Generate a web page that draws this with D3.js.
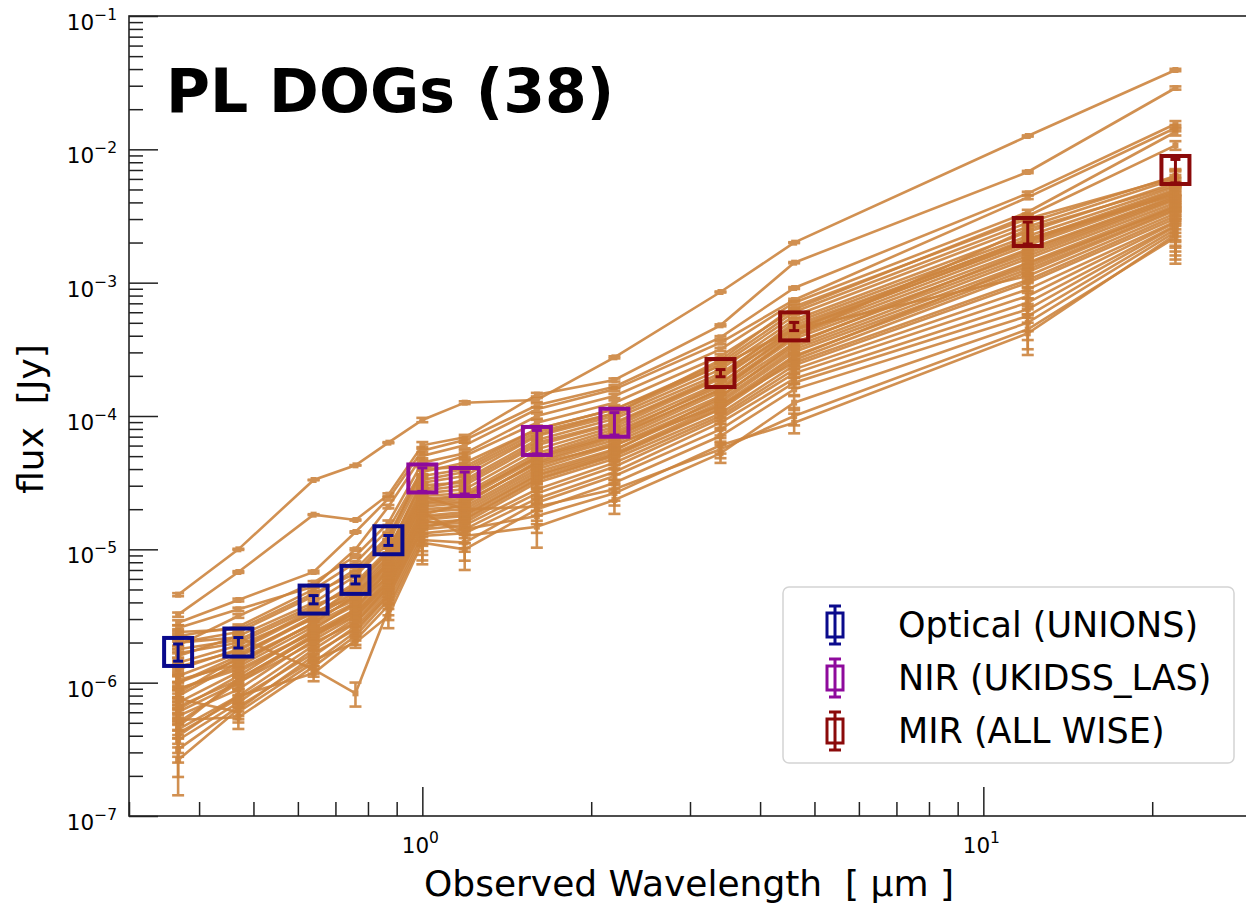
<!DOCTYPE html>
<html>
<head>
<meta charset="utf-8">
<script src="https://cdn.jsdelivr.net/npm/d3@7"></script>
<style>
  body { margin: 0; background: #fff; }
  text { font-family: "DejaVu Sans", sans-serif; fill: #000; white-space: pre; }
</style>
</head>
<body>
<div id="sed"></div>
<script>
const WIDTH = 1246;
const HEIGHT = 903;
const PLOT = { LEFT: 129, RIGHT: 1251, TOP: 16, BOTTOM: 816 };

// DATA
// band wavelengths (micron): u g r i z | Y J H K | W1 W2 W3 W4
const wavelengths = [0.367, 0.47, 0.64, 0.76, 0.87, 1.0, 1.19, 1.6, 2.2, 3.4, 4.6, 12, 22];
const bandGroup = [0, 0, 0, 0, 0, 1, 1, 1, 1, 2, 2, 2, 2];
const groupNames = ["Optical (UNIONS)", "NIR (UKIDSS_LAS)", "MIR (ALL WISE)"];
const groupColors = ["#0a0a8c", "#8e0a9c", "#8b0a0a"];

// median SED with its errors (Jy)
const medianFlux = [1.7e-6, 2.0e-6, 4.2e-6, 5.9e-6, 1.17e-5, 3.4e-5, 3.2e-5, 6.5e-5, 8.9e-5, 2.1e-4, 4.7e-4, 2.4e-3, 7.0e-3];
const medianErr = [2.5e-7, 1.8e-7, 3.0e-7, 4.0e-7, 1.0e-6, 6.8e-6, 6.0e-6, 1.3e-5, 1.7e-5, 1.3e-5, 3.3e-5, 4.5e-4, 1.4e-3];

// typical 1-sigma flux error per band (Jy)
const bandNoise = [1.2e-7, 1.0e-7, 1.5e-7, 1.7e-7, 6e-7, 3.5e-6, 3e-6, 4.5e-6, 5e-6, 8e-6, 1.5e-5, 1.3e-4, 8e-4];

// log10 flux [Jy] of the 38 individual sources
const logFlux = [
  [-5.34, -5.00, -4.48, -4.37, -4.20, -4.03, -3.90, -3.88, -3.56, -3.07, -2.70, -1.90, -1.405],
  [-5.49, -5.17, -4.74, -4.78, -4.59, -4.22, -4.16, -3.84, -3.73, -3.32, -2.85, -2.17, -1.54],
  [-5.55, -5.38, -5.17, -4.87, -4.62, -4.26, -4.18, -3.92, -3.78, -3.41, -3.04, -2.33, -1.81],
  [-5.59, -5.45, -5.28, -5.00, -4.68, -4.30, -4.22, -3.95, -3.80, -3.45, -3.13, -2.36, -1.84],
  [-5.72, -5.50, -5.25, -5.05, -4.80, -4.35, -4.28, -4.00, -3.85, -3.50, -3.15, -2.47, -1.87],
  [-5.65, -5.58, -5.30, -5.10, -4.85, -4.40, -4.30, -4.05, -3.90, -3.55, -3.20, -2.50, -1.97],
  [-5.70, -5.62, -5.35, -5.15, -4.90, -4.42, -4.35, -4.10, -3.95, -3.60, -3.22, -2.55, -2.20],
  [-5.80, -5.65, -5.40, -5.20, -4.95, -4.45, -4.40, -4.12, -3.98, -3.62, -3.25, -2.58, -2.22],
  [-5.90, -5.75, -5.45, -5.25, -5.00, -4.50, -4.45, -4.15, -4.00, -3.65, -3.28, -2.62, -2.25],
  [-6.00, -5.80, -5.50, -5.28, -5.02, -4.52, -4.50, -4.20, -4.05, -3.70, -3.30, -2.65, -2.28],
  [-5.75, -5.68, -5.42, -5.30, -5.05, -4.55, -4.48, -4.18, -4.02, -3.68, -3.32, -2.68, -2.30],
  [-6.10, -5.85, -5.55, -5.35, -5.08, -4.58, -4.55, -4.25, -4.08, -3.72, -3.35, -2.70, -2.32],
  [-6.20, -5.95, -5.60, -5.40, -5.10, -4.60, -4.58, -4.28, -4.10, -3.75, -3.38, -2.72, -2.33],
  [-5.85, -5.72, -5.48, -5.32, -5.12, -4.62, -4.60, -4.30, -4.12, -3.78, -3.40, -2.75, -2.35],
  [-6.30, -6.00, -5.65, -5.45, -5.15, -4.65, -4.62, -4.32, -4.15, -3.80, -3.42, -2.78, -2.37],
  [-5.95, -5.78, -5.52, -5.38, -5.18, -4.68, -4.65, -4.35, -4.18, -3.82, -3.45, -2.80, -2.38],
  [-6.05, -5.88, -5.58, -5.42, -5.20, -4.70, -4.68, -4.38, -4.20, -3.85, -3.48, -2.82, -2.40],
  [-6.15, -5.92, -5.62, -5.48, -5.22, -4.72, -4.70, -4.40, -4.22, -3.88, -3.50, -2.85, -2.42],
  [-6.25, -6.05, -5.68, -5.50, -5.25, -4.75, -4.72, -4.42, -4.25, -3.90, -3.52, -2.88, -2.43],
  [-6.35, -6.10, -5.72, -5.52, -5.28, -4.78, -4.75, -4.45, -4.28, -3.92, -3.55, -2.90, -2.45],
  [-6.43, -6.15, -5.75, -5.55, -5.30, -4.80, -4.78, -4.48, -4.30, -3.95, -3.58, -2.92, -2.46],
  [-5.62, -5.60, -5.33, -5.18, -4.92, -4.40, -4.38, -4.10, -3.95, -3.62, -3.35, -2.95, -2.48],
  [-6.00, -5.83, -5.56, -5.40, -5.15, -4.66, -4.64, -4.36, -4.22, -3.92, -3.60, -2.98, -2.50],
  [-6.58, -6.20, -5.80, -5.58, -5.32, -4.82, -4.80, -4.50, -4.32, -3.98, -3.62, -3.00, -2.52],
  [-6.12, -6.22, -5.85, -5.62, -5.35, -4.85, -4.82, -4.55, -4.35, -4.00, -3.65, -3.05, -2.54],
  [-6.28, -6.26, -5.88, -5.65, -5.38, -4.88, -4.85, -4.58, -4.38, -4.02, -3.68, -3.10, -2.55],
  [-6.40, -6.10, -5.93, -5.68, -5.42, -4.90, -4.88, -4.62, -4.42, -4.05, -3.72, -3.15, -2.57],
  [-5.70, -5.66, -5.90, -6.08, -5.45, -4.93, -4.95, -4.65, -4.45, -4.10, -3.75, -3.20, -2.58],
  [-6.50, -6.18, -5.83, -5.70, -5.50, -4.95, -5.00, -4.70, -4.50, -4.15, -3.80, -3.25, -2.60],
  [-6.05, -5.90, -5.62, -5.45, -5.20, -4.72, -4.90, -4.83, -4.63, -4.28, -3.90, -3.30, -2.62],
  [-6.22, -6.00, -5.70, -5.55, -5.28, -4.78, -4.85, -4.75, -4.58, -4.22, -4.05, -3.38, -2.64],
  [-5.98, -5.86, -5.55, -5.35, -5.10, -4.60, -4.70, -4.68, -4.55, -4.25, -4.00, -3.35, -2.66],
  [-6.33, -5.97, -5.66, -5.47, -5.24, -4.74, -4.66, -4.34, -4.16, -3.80, -3.40, -2.60, -2.27],
  [-5.78, -5.70, -5.44, -5.27, -5.02, -4.48, -4.42, -4.14, -3.98, -3.58, -3.18, -2.52, -2.21],
  [-6.08, -5.81, -5.51, -5.33, -5.06, -4.56, -4.52, -4.22, -4.06, -3.71, -3.34, -2.67, -2.34],
  [-6.18, -5.98, -5.64, -5.50, -5.26, -4.76, -4.74, -4.44, -4.26, -3.86, -3.46, -2.76, -2.36],
  [-5.88, -5.76, -5.47, -5.36, -5.14, -4.64, -4.60, -4.31, -4.14, -3.76, -3.36, -2.69, -2.31],
  [-6.38, -6.12, -5.78, -5.60, -5.34, -4.84, -4.77, -4.47, -4.29, -3.94, -3.56, -2.86, -2.44]
];

const xMajor = [1, 10];
const yExponents = [-7, -6, -5, -4, -3, -2, -1];

const svg = d3
  .select("#sed")
  .append("svg")
  .attr("width", WIDTH)
  .attr("height", HEIGHT);

const x = d3.scaleLog().domain([0.3, 30]).range([PLOT.LEFT, PLOT.RIGHT]);
const y = d3.scaleLog().domain([1e-7, 1e-1]).range([PLOT.BOTTOM, PLOT.TOP]);

// AXIS ticks (inward, matplotlib style)
const xMinor = [];
[0.1, 1, 10].forEach((d) => {
  for (let k = 2; k <= 9; k++) {
    const v = d * k;
    if (v > 0.3 && v < 30 && v !== 1 && v !== 10) xMinor.push(v);
  }
});
const yMinor = [];
yExponents.slice(0, -1).forEach((e) => {
  for (let k = 2; k <= 9; k++) yMinor.push(k * Math.pow(10, e));
});

function styleAxis(g) {
  g.select(".domain").remove();
  g.selectAll(".tick line").attr("stroke", "#222").attr("stroke-width", 1.5);
}

svg.append("g")
  .attr("transform", `translate(0, ${PLOT.BOTTOM})`)
  .call(d3.axisBottom(x).tickValues(xMajor).tickSize(-29).tickFormat(""))
  .call(styleAxis);
svg.append("g")
  .attr("transform", `translate(0, ${PLOT.BOTTOM})`)
  .call(d3.axisBottom(x).tickValues(xMinor).tickSize(-14).tickFormat(""))
  .call(styleAxis);
svg.append("g")
  .attr("transform", `translate(${PLOT.LEFT}, 0)`)
  .call(d3.axisLeft(y).tickValues(yExponents.map((e) => Math.pow(10, e))).tickSize(-29).tickFormat(""))
  .call(styleAxis);
svg.append("g")
  .attr("transform", `translate(${PLOT.LEFT}, 0)`)
  .call(d3.axisLeft(y).tickValues(yMinor).tickSize(-14).tickFormat(""))
  .call(styleAxis);

// tick labels 10^n
yExponents.forEach((e) => {
  const t = svg.append("text")
    .attr("x", 117)
    .attr("y", y(Math.pow(10, e)) + 14)
    .attr("text-anchor", "end")
    .attr("font-size", 21.5);
  t.append("tspan").text("10");
  t.append("tspan").attr("dy", -10).attr("font-size", 15.5).text("\u2212" + Math.abs(e));
});
xMajor.forEach((v) => {
  const t = svg.append("text")
    .attr("x", x(v) - 2)
    .attr("y", 853)
    .attr("text-anchor", "middle")
    .attr("font-size", 21.5);
  t.append("tspan").text("10");
  t.append("tspan").attr("dy", -10).attr("font-size", 15.5).text(Math.round(Math.log10(v)));
});

// LABELS
svg.append("text")
  .attr("x", 689)
  .attr("y", 896)
  .attr("text-anchor", "middle")
  .attr("font-size", 36)
  .text("Observed Wavelength  [ \u00b5m ]");
svg.append("text")
  .attr("transform", `translate(43, 419) rotate(-90)`)
  .attr("text-anchor", "middle")
  .attr("font-size", 36)
  .text("flux  [Jy]");

// TITLE
svg.append("text")
  .attr("x", 166)
  .attr("y", 112)
  .attr("font-size", 60)
  .attr("font-weight", "bold")
  .text("PL DOGs (38)");

// INDIVIDUAL SEDs
const plot = svg.append("g");
const orange = "#cd853f";
const line = d3.line().x((d) => x(d.w)).y((d) => y(d.f));

logFlux.forEach((row) => {
  const pts = row.map((v, i) => ({ w: wavelengths[i], f: Math.pow(10, v), e: bandNoise[i] }));
  const g = plot.append("g").attr("opacity", 0.9);
  g.append("path")
    .attr("d", line(pts))
    .attr("fill", "none")
    .attr("stroke", orange)
    .attr("stroke-width", 2.6);
  const eb = g.selectAll("g.eb").data(pts).join("g").attr("class", "eb");
  eb.append("line")
    .attr("x1", (d) => x(d.w)).attr("x2", (d) => x(d.w))
    .attr("y1", (d) => y(d.f + d.e))
    .attr("y2", (d) => y(Math.max(d.f - d.e, 1.1e-7)))
    .attr("stroke", orange).attr("stroke-width", 2.6);
  [1, -1].forEach((s) => {
    eb.append("line")
      .attr("x1", (d) => x(d.w) - 6).attr("x2", (d) => x(d.w) + 6)
      .attr("y1", (d) => y(s > 0 ? d.f + d.e : Math.max(d.f - d.e, 1.1e-7)))
      .attr("y2", (d) => y(s > 0 ? d.f + d.e : Math.max(d.f - d.e, 1.1e-7)))
      .attr("stroke", orange).attr("stroke-width", 2.6);
  });
  eb.append("rect")
    .attr("x", (d) => x(d.w) - 3).attr("y", (d) => y(d.f) - 3)
    .attr("width", 6).attr("height", 6)
    .attr("fill", orange);
});

// MEDIAN SED
const med = svg.append("g");
medianFlux.forEach((f, i) => {
  const cx = x(wavelengths[i]);
  const cy = y(f);
  const c = groupColors[bandGroup[i]];
  const top = y(f + medianErr[i]);
  const bot = y(f - medianErr[i]);
  med.append("rect")
    .attr("x", cx - 14).attr("y", cy - 14)
    .attr("width", 28).attr("height", 28)
    .attr("fill", "none")
    .attr("stroke", c).attr("stroke-width", 4);
  med.append("line")
    .attr("x1", cx).attr("x2", cx).attr("y1", top).attr("y2", bot)
    .attr("stroke", c).attr("stroke-width", 3);
  [top, bot].forEach((yy) => {
    med.append("line")
      .attr("x1", cx - 5).attr("x2", cx + 5).attr("y1", yy).attr("y2", yy)
      .attr("stroke", c).attr("stroke-width", 3);
  });
});

// FRAME
svg.append("rect")
  .attr("x", PLOT.LEFT).attr("y", PLOT.TOP)
  .attr("width", PLOT.RIGHT - PLOT.LEFT).attr("height", PLOT.BOTTOM - PLOT.TOP)
  .attr("fill", "none").attr("stroke", "#222").attr("stroke-width", 1.6);

// LEGEND
const legend = svg.append("g");
legend.append("rect")
  .attr("x", 783).attr("y", 587).attr("width", 451).attr("height", 176)
  .attr("rx", 6)
  .attr("fill", "#fff").attr("fill-opacity", 0.85)
  .attr("stroke", "#d4d4d4").attr("stroke-width", 1.5);
groupNames.forEach((name, i) => {
  const cy = 625 + i * 53;
  const c = groupColors[i];
  legend.append("rect")
    .attr("x", 827).attr("y", cy - 12).attr("width", 16).attr("height", 24)
    .attr("fill", "none").attr("stroke", c).attr("stroke-width", 3);
  legend.append("line")
    .attr("x1", 835).attr("x2", 835).attr("y1", cy - 19).attr("y2", cy + 19)
    .attr("stroke", c).attr("stroke-width", 3);
  [cy - 19, cy + 19].forEach((yy) => {
    legend.append("line")
      .attr("x1", 829).attr("x2", 841).attr("y1", yy).attr("y2", yy)
      .attr("stroke", c).attr("stroke-width", 3);
  });
  legend.append("text")
    .attr("x", 898).attr("y", cy + 12)
    .attr("font-size", 35)
    .text(name);
});
</script>
</body>
</html>
